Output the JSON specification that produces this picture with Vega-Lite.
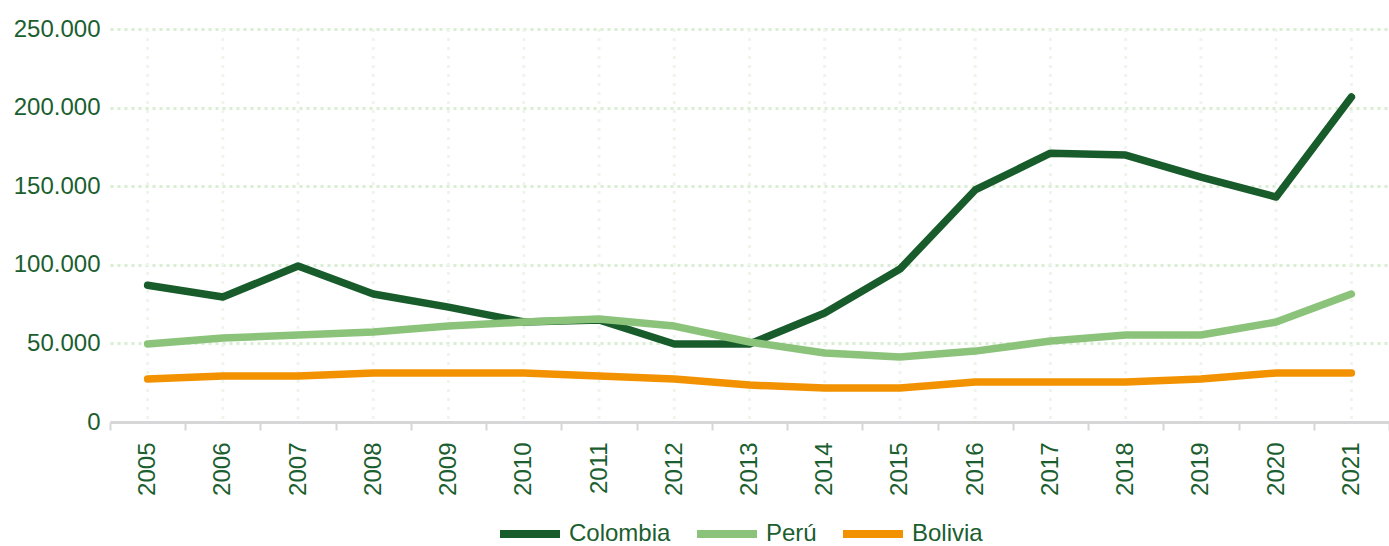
{
  "$schema": "https://vega.github.io/schema/vega-lite/v6.json",
  "width": 1279,
  "height": 393,
  "autosize": {"type": "none"},
  "padding": {"left": 110, "top": 29, "right": 0, "bottom": 124},
  "background": "white",
  "config": {
    "locale": {"number": {"decimal": ",", "thousands": ".", "grouping": [3], "currency": ["", ""]}},
    "font": "Liberation Sans",
    "view": {"stroke": null}
  },
  "data": {
    "values": [
      {"year": "2005", "country": "Colombia", "value": 87000},
      {"year": "2006", "country": "Colombia", "value": 79500},
      {"year": "2007", "country": "Colombia", "value": 99200},
      {"year": "2008", "country": "Colombia", "value": 81400},
      {"year": "2009", "country": "Colombia", "value": 73100},
      {"year": "2010", "country": "Colombia", "value": 63600},
      {"year": "2011", "country": "Colombia", "value": 64900},
      {"year": "2012", "country": "Colombia", "value": 49600},
      {"year": "2013", "country": "Colombia", "value": 49600},
      {"year": "2014", "country": "Colombia", "value": 69300},
      {"year": "2015", "country": "Colombia", "value": 97300},
      {"year": "2016", "country": "Colombia", "value": 147600},
      {"year": "2017", "country": "Colombia", "value": 171000},
      {"year": "2018", "country": "Colombia", "value": 169800},
      {"year": "2019", "country": "Colombia", "value": 155800},
      {"year": "2020", "country": "Colombia", "value": 143100},
      {"year": "2021", "country": "Colombia", "value": 206700},
      {"year": "2005", "country": "Perú", "value": 49600},
      {"year": "2006", "country": "Perú", "value": 53400},
      {"year": "2007", "country": "Perú", "value": 55300},
      {"year": "2008", "country": "Perú", "value": 57200},
      {"year": "2009", "country": "Perú", "value": 61000},
      {"year": "2010", "country": "Perú", "value": 63600},
      {"year": "2011", "country": "Perú", "value": 65500},
      {"year": "2012", "country": "Perú", "value": 61000},
      {"year": "2013", "country": "Perú", "value": 50900},
      {"year": "2014", "country": "Perú", "value": 43900},
      {"year": "2015", "country": "Perú", "value": 41300},
      {"year": "2016", "country": "Perú", "value": 45100},
      {"year": "2017", "country": "Perú", "value": 51500},
      {"year": "2018", "country": "Perú", "value": 55300},
      {"year": "2019", "country": "Perú", "value": 55300},
      {"year": "2020", "country": "Perú", "value": 63600},
      {"year": "2021", "country": "Perú", "value": 81400},
      {"year": "2005", "country": "Bolivia", "value": 27300},
      {"year": "2006", "country": "Bolivia", "value": 29300},
      {"year": "2007", "country": "Bolivia", "value": 29300},
      {"year": "2008", "country": "Bolivia", "value": 31200},
      {"year": "2009", "country": "Bolivia", "value": 31200},
      {"year": "2010", "country": "Bolivia", "value": 31200},
      {"year": "2011", "country": "Bolivia", "value": 29300},
      {"year": "2012", "country": "Bolivia", "value": 27300},
      {"year": "2013", "country": "Bolivia", "value": 23500},
      {"year": "2014", "country": "Bolivia", "value": 21600},
      {"year": "2015", "country": "Bolivia", "value": 21600},
      {"year": "2016", "country": "Bolivia", "value": 25400},
      {"year": "2017", "country": "Bolivia", "value": 25400},
      {"year": "2018", "country": "Bolivia", "value": 25400},
      {"year": "2019", "country": "Bolivia", "value": 27300},
      {"year": "2020", "country": "Bolivia", "value": 31200},
      {"year": "2021", "country": "Bolivia", "value": 31200}
    ]
  },
  "layer": [
    {
      "transform": [{"filter": "datum.country === 'Colombia'"}],
      "mark": {"type": "rule", "color": "#eef6eb", "strokeWidth": 3, "strokeDash": [3, 6]},
      "encoding": {
        "x": {"field": "year", "type": "ordinal"}
      }
    },
    {
      "mark": {"type": "line", "strokeWidth": 7.5, "strokeCap": "round", "strokeJoin": "round"},
      "encoding": {
        "x": {
          "field": "year", "type": "ordinal", "title": null,
          "scale": {"paddingInner": 0, "paddingOuter": 0},
          "axis": {
            "labelAngle": -90, "labelFontSize": 24, "labelColor": "#1b5e2f",
            "labelPadding": 12, "grid": false,
            "tickBand": "extent", "tickColor": "#d6d6d6", "tickWidth": 2, "tickSize": 8,
            "domainColor": "#d6d6d6", "domainWidth": 3
          }
        },
        "y": {
          "field": "value", "type": "quantitative", "title": null,
          "scale": {"domain": [0, 250000]},
          "axis": {
            "values": [0, 50000, 100000, 150000, 200000, 250000],
            "format": ",d", "labelFontSize": 24, "labelColor": "#1b5e2f",
            "labelPadding": 10, "ticks": false, "domain": false,
            "gridColor": "#d9eed2", "gridWidth": 3, "gridDash": [3, 4]
          }
        },
        "color": {
          "field": "country", "type": "nominal", "title": null,
          "scale": {"domain": ["Colombia", "Perú", "Bolivia"], "range": ["#195c2b", "#8bc37a", "#f39200"]},
          "legend": {
            "orient": "none", "legendX": 386, "legendY": 471,
            "direction": "horizontal",
            "symbolType": "stroke", "symbolStrokeWidth": 8, "symbolSize": 3600,
            "labelFontSize": 24, "labelColor": "#1b5e2f", "labelOffset": 5,
            "columnPadding": 10, "symbolOffset": 0
          }
        }
      }
    }
  ]
}
